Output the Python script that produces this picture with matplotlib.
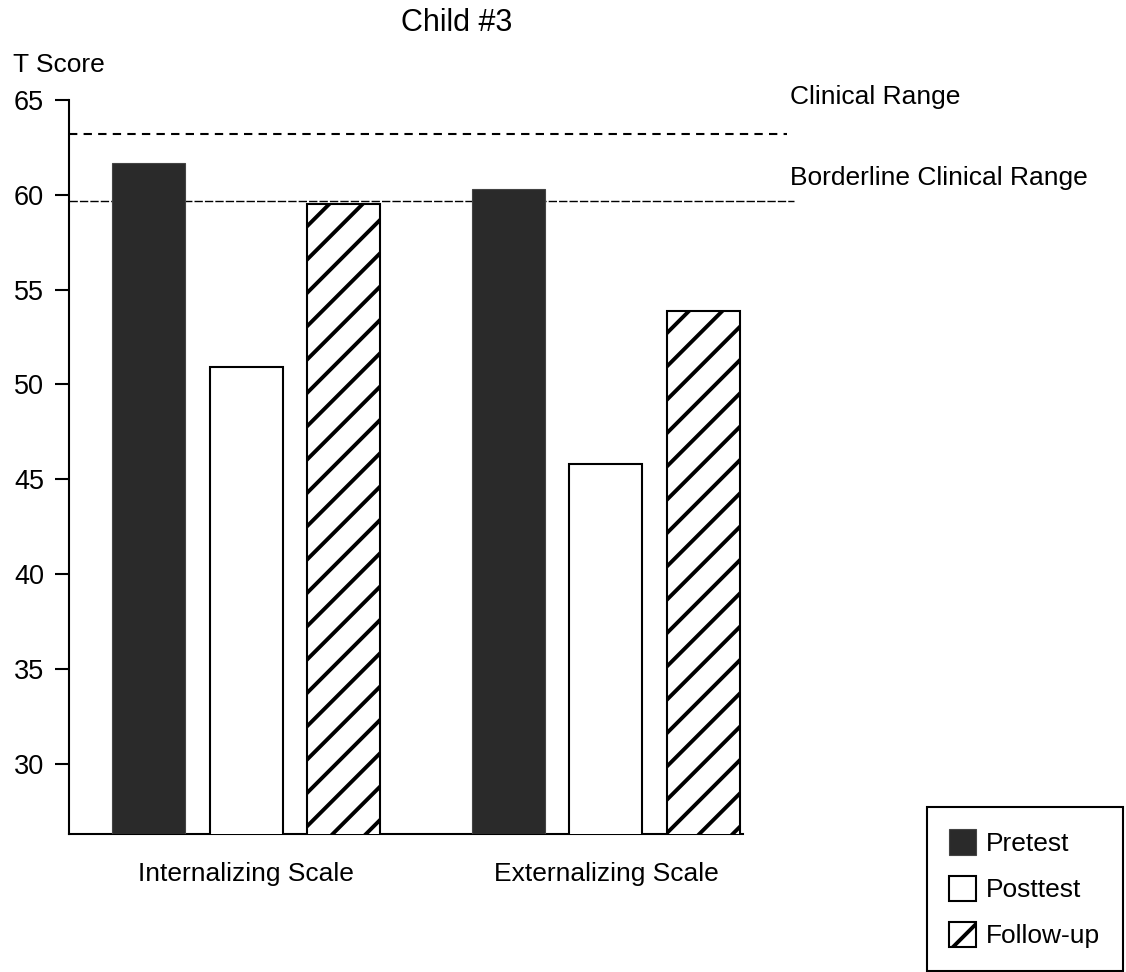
import numpy as np
import matplotlib.pyplot as plt

plt.rcParams['font.family'] = ['Liberation Sans', 'DejaVu Sans']
plt.rcParams['hatch.linewidth'] = 2.8

# data
scales = ['Internalizing Scale', 'Externalizing Scale']
pretest = [61.7, 60.3]
posttest = [50.9, 45.8]
followup = [59.5, 53.9]
clinical = 63.2
borderline = 59.7
yticks = [30, 35, 40, 45, 50, 55, 60, 65]

fig = plt.figure(figsize=(11.26, 9.72), dpi=100)
ax = fig.add_axes([0.0613, 0.142, 0.5986, 0.7551])

x = np.arange(len(scales))
off = 0.27
w = 0.203

b1 = ax.bar(x - off, pretest, w, color='#2a2a2a', edgecolor='#444444',
            linewidth=0.8, label='Pretest', zorder=3)
b2 = ax.bar(x, posttest, w, color='white', edgecolor='black', linewidth=1.5,
            label='Posttest', zorder=3)
b3 = ax.bar(x + off, followup, w, color='white', edgecolor='black', linewidth=1.5,
            hatch='/', label='Follow-up', zorder=3)

# reference lines run past the end of the x axis
ax.axhline(clinical, xmin=0, xmax=1.065, color='black', lw=1.5,
           linestyle=(0, (4, 3)), clip_on=False, zorder=2)
ax.axhline(borderline, xmin=0, xmax=1.075, color='black', lw=1.0,
           linestyle=(0, (6, 1.5)), clip_on=False, zorder=2)
ax.text(1.07, 65.16, 'Clinical Range', transform=ax.get_yaxis_transform(),
        ha='left', va='center', fontsize=19)
ax.text(1.07, 60.89, 'Borderline Clinical Range', transform=ax.get_yaxis_transform(),
        ha='left', va='center', fontsize=19)

ax.set_ylim(26.3, 65)
ax.set_xlim(-0.492, 1.381)
ax.set_yticks(yticks)
ax.set_xticks(x)
ax.set_xticklabels(scales)

for s in ['top', 'right']:
    ax.spines[s].set_visible(False)
for s in ['left', 'bottom']:
    ax.spines[s].set_linewidth(1.5)
ax.tick_params(axis='y', length=10, width=1.5, pad=8, labelsize=19.5)
ax.tick_params(axis='x', length=0, pad=20, labelsize=19)

fig.text(457 / 1126, 1 - 23 / 972, 'Child #3', ha='center', va='center', fontsize=22)
fig.text(13 / 1126, 1 - 65 / 972, 'T Score', ha='left', va='center', fontsize=19)

leg = fig.legend(handles=[b1, b2, b3], loc='upper left',
                 bbox_to_anchor=(927 / 1126, 1 - 807 / 972), fontsize=19,
                 fancybox=False, edgecolor='black', framealpha=1,
                 handlelength=1.0, handleheight=1.1, handletextpad=0.4,
                 labelspacing=0.74, borderpad=0.85, borderaxespad=0)
leg.get_frame().set_linewidth(1.5)

fig.savefig('out.png', dpi=100)
